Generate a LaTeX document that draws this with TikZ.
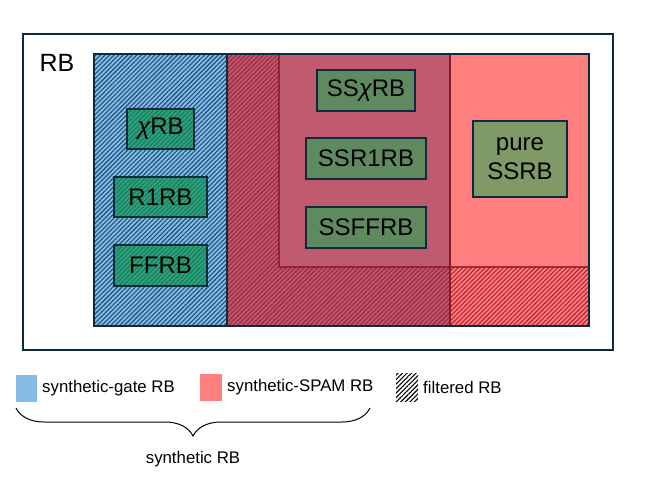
\documentclass[tikz,border=0pt]{standalone}
\usepackage{fontspec}
\setmainfont{Liberation Sans}
\usetikzlibrary{patterns.meta,decorations.pathreplacing}
\definecolor{navy}{HTML}{0E2B3E}
\definecolor{gblue}{HTML}{85BCE6}
\definecolor{gbluel}{HTML}{1F4E79}
\definecolor{hred}{HTML}{C4566B}
\definecolor{hredl}{HTML}{932B42}
\definecolor{ssred}{HTML}{C05A6E}
\definecolor{salmon}{HTML}{FF7F7F}
\definecolor{salmonl}{HTML}{B8202E}
\definecolor{dred}{HTML}{8B1A28}
\definecolor{teal}{HTML}{2BA37E}
\definecolor{teall}{HTML}{1C7A5C}
\definecolor{ssgreen}{HTML}{5F8A5F}
\definecolor{olive}{HTML}{7F9A66}
\tikzset{
  hatch/.style={pattern={Lines[angle=45,distance=3.2pt,line width=1.1pt]}},
  box/.style={draw=navy,line width=2.2pt,inner sep=0pt,font=\fontsize{24}{26}\selectfont,align=center},
  lbl/.style={font=\fontsize{16.8}{18}\selectfont,anchor=west,inner sep=0pt}
}
\begin{document}
\begin{tikzpicture}[x=1pt,y=-1pt]
\useasboundingbox (0,0) rectangle (660,495);
% outer RB frame
\draw[navy,line width=2pt] (23,34) rectangle (613,350);
\node[font=\fontsize{25}{27}\selectfont] (rb) at (57,63) {RB};
% blue synthetic-gate region (filtered)
\fill[gblue] (94,54) rectangle (227,326);
\fill[hatch,pattern color=gbluel] (94,54) rectangle (227,326);
% dark red filtered region
\fill[hred] (227,54) rectangle (450,326);
\fill[hatch,pattern color=hredl] (227,54) rectangle (450,326);
% SS region (not filtered)
\fill[ssred] (279,54) rectangle (450,267);
% pure SPAM region
\fill[salmon] (450,54) rectangle (589,326);
\fill[hatch,pattern color=salmonl] (450,267) rectangle (589,326);
% region borders
\draw[dred,line width=2pt,opacity=0.8] (279,54) -- (279,267) -- (589,267);
\draw[dred,line width=2.5pt] (450,54) -- (450,326);
\draw[navy,line width=2pt] (227,54) -- (227,326);
\draw[navy,line width=2.5pt] (94,54) rectangle (589,326);
% boxes
\node[box,fill=teal,minimum width=67pt,minimum height=40pt] (chirb) at (160.5,129) {};
\fill[hatch,pattern color=teall] (chirb.south west) rectangle (chirb.north east);
\node[box,minimum width=67pt,minimum height=40pt] at (chirb) {{\itshape χ}RB};
\node[box,fill=teal,minimum width=93pt,minimum height=40pt] (r1rb) at (160.5,197) {};
\fill[hatch,pattern color=teall] (r1rb.south west) rectangle (r1rb.north east);
\node[box,minimum width=93pt,minimum height=40pt] at (r1rb) {R1RB};
\node[box,fill=teal,minimum width=93pt,minimum height=41pt] (ffrb) at (160.5,265.5) {};
\fill[hatch,pattern color=teall] (ffrb.south west) rectangle (ffrb.north east);
\node[box,minimum width=93pt,minimum height=41pt] at (ffrb) {FFRB};
\node[box,fill=ssgreen,minimum width=98pt,minimum height=41pt] (sschi) at (366,90.5) {SS{\itshape χ}RB};
\node[box,fill=ssgreen,minimum width=120pt,minimum height=41pt] (ssr1) at (366,158.5) {SSR1RB};
\node[box,fill=ssgreen,minimum width=120pt,minimum height=41pt] (ssff) at (366,227.5) {SSFFRB};
\node[box,fill=olive,minimum width=94pt,minimum height=76pt,font=\fontsize{24}{29}\selectfont] (pure) at (520,159) {pure\\SSRB};
% legend
\fill[gblue] (16,375) rectangle (37,402);
\node[lbl] (lg) at (42,388.5) {synthetic-gate RB};
\fill[salmon] (200,374) rectangle (222,401);
\node[lbl] (ls) at (227,387.5) {synthetic-SPAM RB};
\fill[hatch,pattern color=black] (396,373) rectangle (418,401);
\node[lbl] (lf) at (423,387) {filtered RB};
\coordinate (bl) at (16,408);
\coordinate (br) at (370,408);
\draw[line width=1pt,decorate,decoration={brace,amplitude=28pt}] (br) -- (bl);
\node[font=\fontsize{16.8}{18}\selectfont] (syn) at (193,459) {synthetic RB};
\end{tikzpicture}
\end{document}
